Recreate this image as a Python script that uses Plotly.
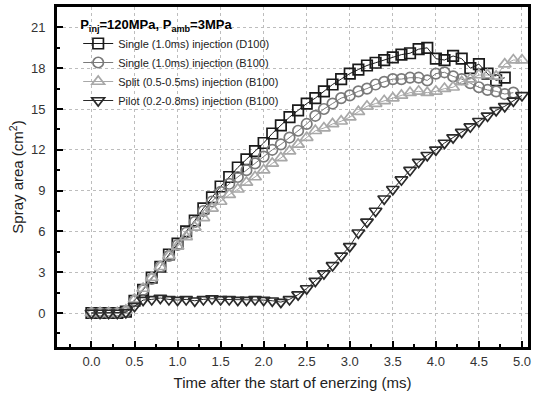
import plotly.graph_objects as go

t_all = [round(i * 0.1, 1) for i in range(51)]

single_d100 = [0, 0, 0, 0, 0.1, 0.9, 1.7, 2.6, 3.4, 4.3, 5.1, 6.0, 6.8, 7.7, 8.5, 9.3, 10.0, 10.7, 11.3, 11.9,
               12.5, 13.2, 13.8, 14.4, 14.9, 15.4, 15.8, 16.3, 16.8, 17.2, 17.6, 17.9, 18.2, 18.4, 18.6, 18.8,
               19.0, 19.1, 19.4, 19.5, 18.7, 18.6, 18.9, 18.7, 18.0, 18.3, 17.6, 17.1, 17.3]
single_b100 = [0, 0, 0, 0, 0.1, 0.9, 1.7, 2.5, 3.4, 4.2, 5.0, 5.9, 6.7, 7.5, 8.2, 8.9, 9.5, 10.0, 10.5, 11.0,
               11.5, 12.0, 12.4, 12.9, 13.4, 13.9, 14.5, 15.0, 15.4, 15.8, 16.0, 16.3, 16.5, 16.8, 17.0, 17.2,
               17.2, 17.3, 17.3, 17.1, 17.6, 17.7, 17.4, 17.2, 16.9, 16.6, 16.4, 16.3, 16.1, 16.2]
split_b100 = [0, 0, 0, 0, 0.2, 1.0, 1.8, 2.6, 3.4, 4.2, 4.9, 5.6, 6.3, 7.0, 7.7, 8.2, 8.7, 9.1, 9.6, 10.0,
              10.5, 11.0, 11.4, 11.9, 12.4, 12.9, 13.4, 13.6, 13.9, 14.1, 14.4, 14.8, 15.2, 15.4, 15.6, 15.8,
              16.0, 16.2, 16.3, 16.2, 16.3, 16.5, 16.6, 17.0, 17.2, 17.5, 17.5, 17.4, 18.3, 18.6, 18.6]
pilot_b100 = [0, 0, 0, 0, 0.05, 0.5, 0.95, 1.0, 1.1, 1.0, 0.95, 1.0, 0.9, 1.0, 1.05, 1.0, 1.0, 0.95, 0.95, 1.0,
              0.95, 0.9, 0.8, 1.0, 1.35, 1.8, 2.35, 2.9, 3.5, 4.2, 4.9, 5.9, 6.7, 7.5, 8.4, 9.1,
              9.8, 10.5, 11.1, 11.6, 12.0, 12.5, 12.9, 13.3, 13.7, 14.1, 14.5, 14.9, 15.2, 15.6, 16.0]

names = ["Single (1.0ms) injection (D100)", "Single (1.0ms) injection (B100)",
         "Split (0.5-0.5ms) injection (B100)", "Pilot (0.2-0.8ms) injection (B100)"]
series = [single_d100, single_b100, split_b100, pilot_b100]
symbols = ["square-open", "circle-open", "triangle-up-open", "triangle-down-open"]
colors = ["#1a1a1a", "#7a7a7a", "#a8a8a8", "#2a2a2a"]
sizes = [10.5, 10.5, 11, 11]

FONT = "Liberation Sans, Arial, sans-serif"

fig = go.Figure()
for name, ys, sym, col, sz in zip(names, series, symbols, colors, sizes):
    fig.add_trace(go.Scatter(
        x=t_all[:len(ys)], y=ys, name=name, mode="lines+markers",
        line=dict(color=col, width=1),
        marker=dict(symbol=sym, size=sz, color=col, line=dict(color=col, width=1.7)),
    ))

axis_common = dict(
    showline=True, linecolor="black", linewidth=2.8, mirror=True,
    ticks="inside", ticklen=6, tickwidth=2, tickcolor="black",
    showgrid=True, gridcolor="#bdbdbd", griddash="dot", gridwidth=1,
    zeroline=False,
    tickfont=dict(family=FONT, size=13, color="#333"),
    title_font=dict(family=FONT, size=15, color="#222"),
)

fig.update_xaxes(
    range=[-0.40, 5.07], tickmode="array",
    tickvals=[0, 0.5, 1, 1.5, 2, 2.5, 3, 3.5, 4, 4.5, 5],
    ticktext=["0.0", "0.5", "1.0", "1.5", "2.0", "2.5", "3.0", "3.5", "4.0", "4.5", "5.0"],
    minor=dict(ticks="inside", ticklen=3, tickwidth=2, tickcolor="black", dtick=0.25, tick0=0, showgrid=False),
    title_text="Time after the start of enerzing (ms)", title_standoff=10,
    **axis_common,
)
fig.update_yaxes(
    range=[-2.5, 22.5], tickmode="array",
    tickvals=[0, 3, 6, 9, 12, 15, 18, 21],
    minor=dict(ticks="inside", ticklen=3, tickwidth=2, tickcolor="black", dtick=1.5, tick0=0, showgrid=False),
    title_text="Spray area (cm<sup>2</sup>)", title_standoff=4, ticklabelstandoff=6,
    **axis_common,
)

fig.update_layout(
    width=535, height=400,
    margin=dict(l=57, r=4, t=5, b=53),
    paper_bgcolor="white", plot_bgcolor="white",
    font=dict(family=FONT, color="#222"),
    showlegend=True,
    legend=dict(
        x=0.045, y=0.985, xanchor="left", yanchor="top",
        bgcolor="rgba(0,0,0,0)", borderwidth=0,
        font=dict(family=FONT, size=11, color="#222"),
        title=dict(text="<b>P<sub>inj</sub>=120MPa, P<sub>amb</sub>=3MPa</b>",
                   font=dict(family=FONT, size=13, color="black")),
        itemwidth=30,
    ),
)

fig.write_html("out.html", config={"displayModeBar": False},
               post_script="document.body.style.margin='0';")
